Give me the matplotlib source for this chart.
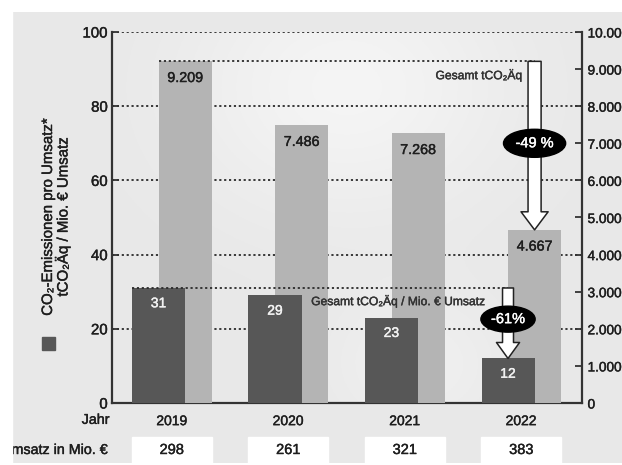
import matplotlib
matplotlib.use("Agg")
import matplotlib.pyplot as plt
import matplotlib.patheffects as pe
from matplotlib.text import Text
import numpy as np
from matplotlib.patches import Rectangle, FancyArrowPatch, ArrowStyle
from matplotlib.transforms import blended_transform_factory

plt.rcParams['font.family'] = ['Liberation Sans', 'DejaVu Sans']

# data
years = ['2019', '2020', '2021', '2022']
intensity = [31, 29, 23, 12]            # tCO2Äq / Mio. € Umsatz (left axis)
total = [9209, 7486, 7268, 4667]         # Gesamt tCO2Äq (right axis)
total_labels = ['9.209', '7.486', '7.268', '4.667']
umsatz = [298, 261, 321, 383]
left_ticks = [0, 20, 40, 60, 80, 100]
right_ticks = [0, 1000, 2000, 3000, 4000, 5000, 6000, 7000, 8000, 9000, 10000]
right_labels = ['0', '1.000', '2.000', '3.000', '4.000', '5.000',
                '6.000', '7.000', '8.000', '9.000', '10.000']

dark = '#575757'
light = '#b4b4b4'
txt = '#1e1e1e'
W, H = 622, 465

fig = plt.figure(figsize=(W / 100, H / 100), dpi=100)
fig.patch.set_facecolor('white')

# gray card behind everything
bg = fig.add_axes([12 / W, 2 / H, 610 / W, 451 / H], zorder=-5)
bg.set_facecolor('#e8e8e8')
bg.set_xticks([]); bg.set_yticks([])
for s in bg.spines.values():
    s.set_visible(False)

pos = [112 / W, 62 / H, 470 / W, 371 / H]
ax = fig.add_axes(pos, zorder=0)      # grid + left scale
ax2 = ax.twinx()                      # light bars, right scale
ax3 = ax.twinx()                      # dark bars on top
ax2.set_zorder(1)
ax3.set_zorder(2)
for a in (ax, ax2, ax3):
    a.patch.set_visible(False)

x = np.arange(len(years))
off = 0.114
bw = 0.455
xlim = (-0.513, 3.521)

# soft lighter background inside the plot area
gy, gx = np.mgrid[0:1:200j, 0:1:300j]
glow = np.exp(-(((gx - 0.5) / 0.35) ** 2 + ((gy - 0.15) / 0.35) ** 2)) \
    + 0.6 * np.exp(-(((gx - 0.65) / 0.2) ** 2 + ((gy - 0.9) / 0.2) ** 2))
glow = np.clip(glow, 0, 1)
img = np.ones((200, 300, 4))
img[..., 3] = glow * 0.55
ax.imshow(img, extent=[0, 1, 0, 1], transform=ax.transAxes, aspect='auto',
          zorder=0, origin='upper')

ax.set_xlim(*xlim)
ax.set_ylim(0, 100)
ax.set_yticks(left_ticks)
ax.set_xticks(x)
ax.set_xticklabels(years, fontsize=10, color=txt)
ax.tick_params(axis='x', length=0, pad=8)
ax.tick_params(axis='y', direction='in', length=5, width=1.3, color='#333',
               labelsize=10.8, labelcolor=txt, pad=3)
ax.yaxis.grid(True, linestyle=(0, (1.2, 1.5)), color='#2a2a2a', lw=1.3)
ax.set_axisbelow(True)
for s in ['left', 'bottom']:
    ax.spines[s].set_color('#333')
    ax.spines[s].set_linewidth(1.6)
ax.spines['top'].set_visible(False)
ax.spines['right'].set_visible(False)

# light bars - total emissions
ax2.bar(x + off, total, width=bw, color=light, zorder=2)
ax2.set_ylim(0, 10000)
ax2.set_xlim(*xlim)
ax2.set_yticks(right_ticks)
ax2.set_yticklabels(right_labels)
ax2.tick_params(axis='y', direction='in', length=5, width=1.3, color='#333',
                labelsize=9.8, labelcolor=txt, pad=4)
for s in ['top', 'left', 'bottom']:
    ax2.spines[s].set_visible(False)
ax2.spines['right'].set_color('#333')
ax2.spines['right'].set_linewidth(1.6)
for xi, v, lab in zip(x, total, total_labels):
    ax2.annotate(lab, (xi + off, v), xytext=(0, -12), textcoords='offset points',
                 ha='center', va='center', fontsize=10.3, color=txt)

# dark bars - intensity
ax3.bar(x - off, intensity, width=bw, color=dark, zorder=2)
ax3.set_ylim(0, 100)
ax3.set_xlim(*xlim)
ax3.axis('off')
for xi, v in zip(x, intensity):
    ax3.annotate(str(v), (xi - off, v), xytext=(0, -11), textcoords='offset points',
                 ha='center', va='center', fontsize=10, color='#f2f2f2')

# reference dotted lines from 2019 to 2022
ax2.hlines(total[0], x[0] + off - bw / 2, x[-1] + off, colors='#2a2a2a',
           linestyles=(0, (1.2, 1.5)), lw=1.3, zorder=3)
ax3.hlines(intensity[0], x[0] - off - bw / 2, x[-1] - off, colors='#2a2a2a',
           linestyles=(0, (1.2, 1.5)), lw=1.3, zorder=3)

# arrows
a1 = FancyArrowPatch((x[-1] + off, total[0]), (x[-1] + off, total[-1]),
                     arrowstyle=ArrowStyle.Simple(head_length=13, head_width=19.5,
                                                  tail_width=9.4),
                     mutation_scale=1, fc='white', ec='#222', lw=1.1,
                     shrinkA=0, shrinkB=0, zorder=4)
ax2.add_patch(a1)
a2 = FancyArrowPatch((x[-1] - off, intensity[0]), (x[-1] - off, intensity[-1]),
                     arrowstyle=ArrowStyle.Simple(head_length=11.5, head_width=16.6,
                                                  tail_width=7.9),
                     mutation_scale=1, fc='white', ec='#222', lw=1.1,
                     shrinkA=0, shrinkB=0, zorder=4)
ax3.add_patch(a2)

ax2.text(x[-1] + off, 7000, '-49 %', ha='center', va='center', fontsize=10.5,
         color='white', zorder=6,
         bbox=dict(boxstyle='ellipse,pad=0.2', fc='black', ec='black'))
ax3.text(x[-1] - off, 22.6, '-61%', ha='center', va='center', fontsize=10.5,
         color='white', zorder=6,
         bbox=dict(boxstyle='ellipse,pad=0.15', fc='black', ec='black'))

ax2.annotate('Gesamt tCO₂Äq', (x[-1] + off, total[0]), xytext=(-8.5, -10),
             textcoords='offset points', ha='right', va='center',
             fontsize=8.7, color='#333')
ax3.annotate('Gesamt tCO₂Äq / Mio. € Umsatz', (x[-1] - off, intensity[0]),
             xytext=(-16, -9.5), textcoords='offset points', ha='right',
             va='center', fontsize=8.7, color='#333')

# left axis label + legend square
fig.text(48 / W, 1 - 217 / H, 'CO₂-Emissionen pro Umsatz*', rotation=90,
         ha='center', va='center', fontsize=10.8, color=txt)
fig.text(63 / W, 1 - 217 / H, 'tCO₂Äq / Mio. € Umsatz', rotation=90,
         ha='center', va='center', fontsize=10.8, color=txt)
fig.add_artist(Rectangle((42 / W, 1 - 350 / H), 13 / W, 13 / H,
                         transform=fig.transFigure, color=dark))

# bottom row: year caption and revenue table
tr = blended_transform_factory(ax.transData, ax.transAxes)
ax.text(xlim[0] - 0.02, -0.0455, 'Jahr', transform=tr, ha='right', va='center',
        fontsize=10.3, color=txt)
for xi, u in zip(x, umsatz):
    ax.add_patch(Rectangle((xi - 0.342, -0.1617), 0.684, 0.0701, transform=tr,
                           color='white', clip_on=False, zorder=1))
    ax.text(xi, -0.1267, str(u), transform=tr, ha='center', va='center',
            fontsize=10.5, color=txt, clip_on=False)
ax.text(-0.55, -0.1267, 'Umsatz in Mio. €', transform=tr, ha='right',
        va='center', fontsize=10.3, color=txt)

# white border on the left, as in the cropped original
fig.add_artist(Rectangle((0, 0), 12 / W, 1, transform=fig.transFigure,
                         color='white', zorder=10))

# medium-weight look for all texts
for t in fig.findobj(Text):
    t.set_path_effects([pe.withStroke(linewidth=0.3, foreground=t.get_color())])

fig.savefig('out.png', dpi=100)
